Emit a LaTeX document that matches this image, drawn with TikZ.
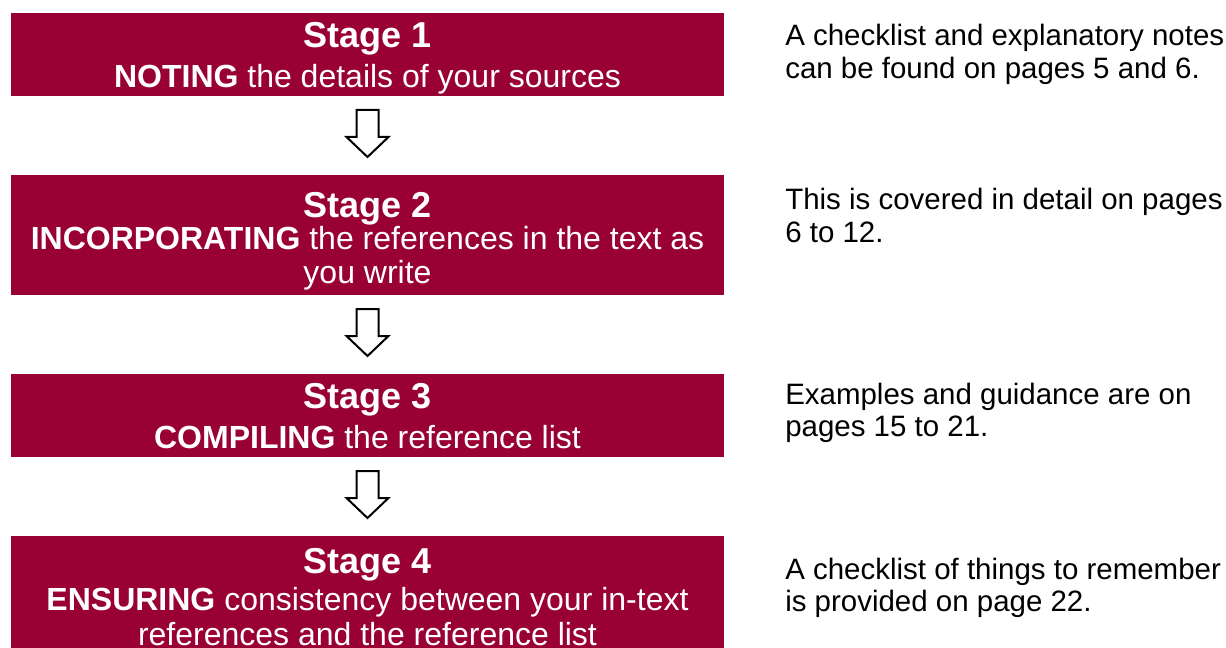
\documentclass[tikz,border=0pt]{standalone}
\usepackage{fontspec}
\setmainfont{Liberation Sans}
\usetikzlibrary{calc}
\definecolor{crimson}{HTML}{990033}
\begin{document}
\begin{tikzpicture}[x=0.75pt,y=-0.75pt,
  stagebox/.style={fill=crimson, draw=none, inner sep=0pt, outer sep=0pt, minimum width=534.75pt},
  head/.style={text=white, font=\fontsize{27}{32}\selectfont\bfseries, anchor=base, inner sep=0pt},
  body/.style={text=white, font=\fontsize{24}{28}\selectfont, anchor=base, inner sep=0pt},
  note/.style={text=black, font=\fontsize{22.1}{25}\selectfont, anchor=base west, inner sep=0pt},
  blockarrow/.style={draw=black, line width=1.5pt, fill=white, line join=miter},
  downarrow/.pic={\draw[blockarrow] (-11,-23.5) -- (11,-23.5) -- (11,3.5) -- (21,3.5) -- (0,23.5) -- (-21,3.5) -- (-11,3.5) -- cycle;}]
\useasboundingbox (0,0) rectangle (1226,648);

% stage boxes
\node[stagebox, minimum height=62.25pt] (s1) at (367.5,54.5) {};
\node[stagebox, minimum height=90pt]    (s2) at (367.5,235) {};
\node[stagebox, minimum height=62.25pt] (s3) at (367.5,415.5) {};
\node[stagebox, minimum height=84pt]    (s4) at (367.5,592) {};

% texts in boxes
\node[head] (s1h) at (367.5,48) {Stage 1};
\node[body] (s1b) at (367.5,88) {\textbf{NOTING} the details of your sources};

\node[head] (s2h) at (367.5,218) {Stage 2};
\node[body] (s2c0) at (367.5,250) {\textbf{INCORPORATING} the references in the text as};
\node[body] (s2c) at (367.5,283) {you write};

\node[head] (s3h) at (367.5,408) {Stage 3};
\node[body] (s3b) at (367.5,448) {\textbf{COMPILING} the reference list};

\node[head] (s4h) at (367.5,573) {Stage 4};
\node[body] (s4b) at (367.5,610) {\textbf{ENSURING} consistency between your in-text};
\node[body] (s4c) at (367.5,645) {references and the reference list};

% arrows between boxes
\path ($(s1.south)!0.5!(s2.north)+(0,-2)$) pic {downarrow};
\path ($(s2.south)!0.5!(s3.north)+(0,-2)$) pic {downarrow};
\path ($(s3.south)!0.5!(s4.north)+(0,-2)$) pic {downarrow};

% notes
\node[note] (n1a) at (785,46) {A checklist and explanatory notes};
\node[note] (n1b) at (785,79) {can be found on pages 5 and 6.};
\node[note] (n2a) at (785,210) {This is covered in detail on pages};
\node[note] (n2b) at (785,243) {6 to 12.};
\node[note] (n3a) at (785,404) {Examples and guidance are on};
\node[note] (n3b) at (785,436) {pages 15 to 21.};
\node[note] (n4a) at (785,579) {A checklist of things to remember};
\node[note] (n4b) at (785,611) {is provided on page 22.};
\end{tikzpicture}
\end{document}
